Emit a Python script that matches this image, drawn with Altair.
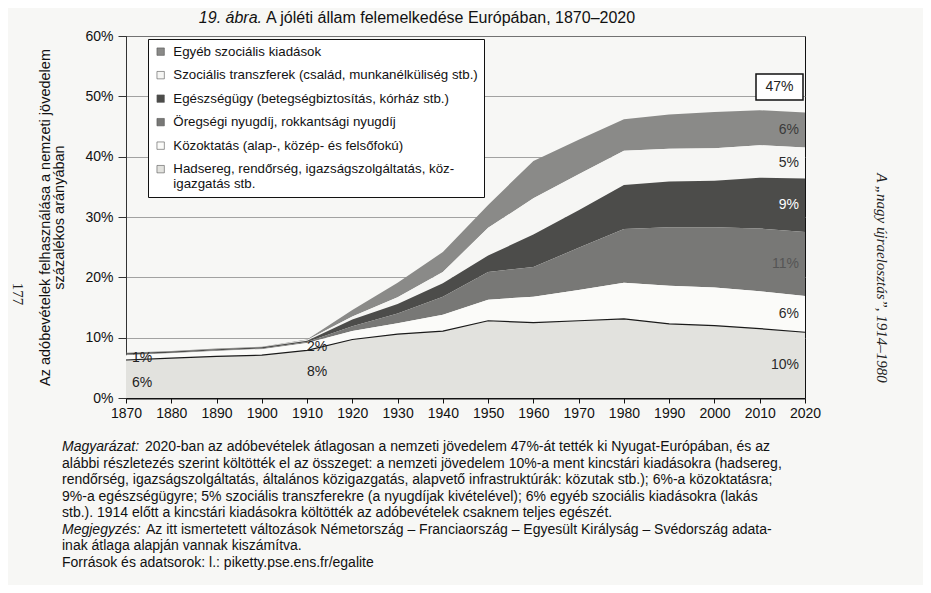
import altair as alt
import pandas as pd

# ---------------- data ----------------
years = [1870, 1880, 1890, 1900, 1910, 1920, 1930, 1940, 1950, 1960, 1970, 1980, 1990, 2000, 2010, 2020]
hadsereg = [6.3, 6.6, 6.9, 7.1, 7.9, 9.7, 10.6, 11.1, 12.8, 12.5, 12.8, 13.1, 12.3, 12.0, 11.5, 10.9]
kozoktatas = [0.8, 0.8, 0.9, 1.0, 1.2, 1.4, 1.8, 2.7, 3.5, 4.3, 5.1, 6.0, 6.3, 6.3, 6.2, 6.0]
oregsegi = [0.1, 0.1, 0.1, 0.1, 0.2, 0.8, 1.6, 3.0, 4.6, 4.9, 7.0, 8.9, 9.7, 10.0, 10.4, 10.6]
egeszsegugy = [0.2, 0.2, 0.2, 0.2, 0.2, 1.1, 1.6, 2.2, 2.7, 5.4, 6.2, 7.3, 7.6, 7.7, 8.4, 8.9]
transzfer = [0.0, 0.0, 0.0, 0.0, 0.1, 0.5, 1.1, 1.9, 4.6, 6.0, 6.0, 5.7, 5.4, 5.4, 5.4, 5.1]
egyeb = [0.1, 0.1, 0.1, 0.1, 0.1, 1.1, 2.4, 3.3, 3.8, 6.2, 5.7, 5.2, 5.7, 6.0, 5.8, 5.8]

categories = [
    "Egyéb szociális kiadások",
    "Szociális transzferek (család, munkanélküliség stb.)",
    "Egészségügy (betegségbiztosítás, kórház stb.)",
    "Öregségi nyugdíj, rokkantsági nyugdíj",
    "Közoktatás (alap-, közép- és felsőfokú)",
    "Hadsereg, rendőrség, igazságszolgáltatás, köz-igazgatás stb.",
]
series = [egyeb, transzfer, egeszsegugy, oregsegi, kozoktatas, hadsereg]
end_labels = ["6%", "5%", "9%", "11%", "6%", "10%"]
start_labels = ["1%", "6%"]      # 1870: oktatás, hadsereg
mid_labels = ["2%", "8%"]        # 1910: oktatás, hadsereg
total_label = "47%"

title_italic = "19. ábra."
title_rest = "A jóléti állam felemelkedése Európában, 1870–2020"
y_title = ["Az adóbevételek felhasználása a nemzeti jövedelem", "százalékos arányában"]
side_text = "A „nagy újraelosztás”, 1914–1980"
page_number = "177"
caption = [
    ("Magyarázat:", "2020-ban az adóbevételek átlagosan a nemzeti jövedelem 47%-át tették ki Nyugat-Európában, és az"),
    ("", "alábbi részletezés szerint költötték el az összeget: a nemzeti jövedelem 10%-a ment kincstári kiadásokra (hadsereg,"),
    ("", "rendőrség, igazságszolgáltatás, általános közigazgatás, alapvető infrastruktúrák: közutak stb.); 6%-a közoktatásra;"),
    ("", "9%-a egészségügyre; 5% szociális transzferekre (a nyugdíjak kivételével); 6% egyéb szociális kiadásokra (lakás"),
    ("", "stb.). 1914 előtt a kincstári kiadásokra költötték az adóbevételek csaknem teljes egészét."),
    ("Megjegyzés:", "Az itt ismertetett változások Németország – Franciaország – Egyesült Királyság – Svédország adata-"),
    ("", "inak átlaga alapján vannak kiszámítva."),
    ("", "Források és adatsorok: l.: piketty.pse.ens.fr/egalite"),
]

# ---------------- styling ----------------
colors = ["#8a8a88", "#f6f6f4", "#4c4c4a", "#787876", "#fbfbf9", "#e2e2de"]
end_label_colors = ["#3a3a3a", "#2a2a2a", "#ffffff", "#555555", "#2a2a2a", "#2a2a2a"]
FONT = "Liberation Sans"
W, H = 679, 362
BG = "#f7f7f5"

# long table, stacking order: Hadsereg at bottom
rows = []
n = len(categories)
for i, (cat, vals) in enumerate(zip(categories, series)):
    for yr, v in zip(years, vals):
        rows.append({"year": yr, "cat": cat, "value": v, "ord": n - i})
df = pd.DataFrame(rows)

xscale = alt.Scale(domain=[1870, 2020], nice=False, zero=False)
yscale = alt.Scale(domain=[0, 60], nice=False)

legend_label_expr = (
    "datum.label == 'Hadsereg, rendőrség, igazságszolgáltatás, köz-igazgatás stb.' ? "
    "['Hadsereg, rendőrség, igazságszolgáltatás, köz-', 'igazgatás stb.'] : datum.label"
)

area = alt.Chart(df).mark_area(interpolate="linear").encode(
    x=alt.X("year:Q", scale=xscale, axis=alt.Axis(
        values=list(range(1870, 2021, 5)),
        labelExpr="datum.value % 10 == 0 ? datum.label : ''",
        format="d", tickSize=5, tickColor="#111", domainColor="#111", domainWidth=2,
        labelFont=FONT, labelFontSize=14, labelColor="#111", grid=False, title=None,
        labelPadding=3, labelFlush=False)),
    y=alt.Y("value:Q", stack="zero", scale=yscale, axis=alt.Axis(
        values=[0, 10, 20, 30, 40, 50, 60], labelExpr="datum.value + '%'",
        grid=True, gridColor="#8c8c8c", gridWidth=0.8, tickSize=8, tickColor="#333",
        domainColor="#333", labelPadding=5, labelFont=FONT, labelFontSize=14, labelColor="#111",
        title=y_title, titleFont=FONT, titleFontSize=14.5, titleFontWeight="normal",
        titleColor="#111", titleLineHeight=14, titlePadding=18)),
    color=alt.Color("cat:N", scale=alt.Scale(domain=categories, range=colors), legend=alt.Legend(
        orient="none", legendX=22, legendY=3, title=None, fillColor="white", strokeColor="#111",
        padding=6, symbolType="square", symbolSize=55, symbolStrokeColor="#555", symbolStrokeWidth=0.6,
        labelFont=FONT, labelFontSize=13.3, labelColor="#111", labelLimit=400, labelOffset=6,
        rowPadding=9.5, labelExpr=legend_label_expr)),
    order=alt.Order("ord:Q"),
)

line_df = pd.DataFrame({"year": years, "v": hadsereg})
hline = alt.Chart(line_df).mark_line(color="#1a1a1a", strokeWidth=1.2).encode(
    x=alt.X("year:Q", scale=xscale), y=alt.Y("v:Q", scale=yscale))

# labels at 2020 at band centres
layers = [area, hline]
cum = 0.0
mids = {}
for cat, vals in reversed(list(zip(categories, series))):
    mids[cat] = cum + vals[-1] / 2
    cum += vals[-1]
for cat, lab, col in zip(categories, end_labels, end_label_colors):
    d = pd.DataFrame({"year": [2020], "v": [mids[cat]], "t": [lab]})
    layers.append(alt.Chart(d).mark_text(align="right", dx=-6, fontSize=14, font=FONT, color=col).encode(
        x=alt.X("year:Q", scale=xscale), y=alt.Y("v:Q", scale=yscale), text="t:N"))

# early labels (1870, 1910)
d1 = pd.DataFrame({"year": [1870, 1870], "v": [hadsereg[0] + kozoktatas[0] / 2, hadsereg[0] * 0.4], "t": start_labels})
layers.append(alt.Chart(d1).mark_text(align="left", dx=6, fontSize=14, font=FONT, color="#222").encode(
    x=alt.X("year:Q", scale=xscale), y=alt.Y("v:Q", scale=yscale), text="t:N"))
d2 = pd.DataFrame({"year": [1910, 1910], "v": [hadsereg[4] + 0.5, hadsereg[4] * 0.55], "t": mid_labels})
layers.append(alt.Chart(d2).mark_text(align="left", dx=0, fontSize=14, font=FONT, color="#222").encode(
    x=alt.X("year:Q", scale=xscale), y=alt.Y("v:Q", scale=yscale), text="t:N"))

# 47% box
one = pd.DataFrame({"t": [total_label]})
layers.append(alt.Chart(one).mark_rect(fill="white", stroke="#111", strokeWidth=1.5).encode(
    x=alt.value(630), x2=alt.value(677), y=alt.value(38), y2=alt.value(64)))
layers.append(alt.Chart(one).mark_text(fontSize=14, font=FONT, color="#222").encode(
    text="t:N", x=alt.value(653.5), y=alt.value(51)))

# title
layers.append(alt.Chart(pd.DataFrame({"t": [title_italic]})).mark_text(
    align="right", baseline="middle", fontSize=16, font=FONT, fontStyle="italic", color="#111").encode(
    text="t:N", x=alt.value(136), y=alt.value(-18)))
layers.append(alt.Chart(pd.DataFrame({"t": [title_rest]})).mark_text(
    align="left", baseline="middle", fontSize=16, font=FONT, color="#111").encode(
    text="t:N", x=alt.value(140), y=alt.value(-18)))

# side texts
layers.append(alt.Chart(pd.DataFrame({"t": [side_text]})).mark_text(
    angle=90, baseline="middle", fontSize=15, font="Liberation Serif", fontStyle="italic", color="#222").encode(
    text="t:N", x=alt.value(756), y=alt.value(242)))
layers.append(alt.Chart(pd.DataFrame({"t": [page_number]})).mark_text(
    angle=90, baseline="middle", fontSize=15, font="Liberation Serif", color="#222").encode(
    text="t:N", x=alt.value(-108), y=alt.value(258)))

# caption
CAP_X = -64
cap_y0 = 411
cap_dy = 16.5
CAP_FS = 14
italic_w = {"Magyarázat:": 83, "Megjegyzés:": 84}
for i, (it, rest) in enumerate(caption):
    yy = cap_y0 + i * cap_dy
    xx = CAP_X
    if it:
        layers.append(alt.Chart(pd.DataFrame({"t": [it]})).mark_text(
            align="left", baseline="middle", fontSize=CAP_FS, font=FONT, fontStyle="italic", color="#111").encode(
            text="t:N", x=alt.value(xx), y=alt.value(yy)))
        xx += italic_w[it]
    layers.append(alt.Chart(pd.DataFrame({"t": [rest]})).mark_text(
        align="left", baseline="middle", fontSize=CAP_FS, font=FONT, color="#111").encode(
        text="t:N", x=alt.value(xx), y=alt.value(yy)))

chart = alt.layer(*layers).properties(
    width=W, height=H,
    autosize=alt.AutoSizeParams(type="none"),
    padding={"left": 118, "top": 28, "right": 118, "bottom": 187},
    background=BG,
).configure_view(stroke="#111", strokeWidth=1)

chart.save("out.html", embed_options={"renderer": "svg", "actions": False})
